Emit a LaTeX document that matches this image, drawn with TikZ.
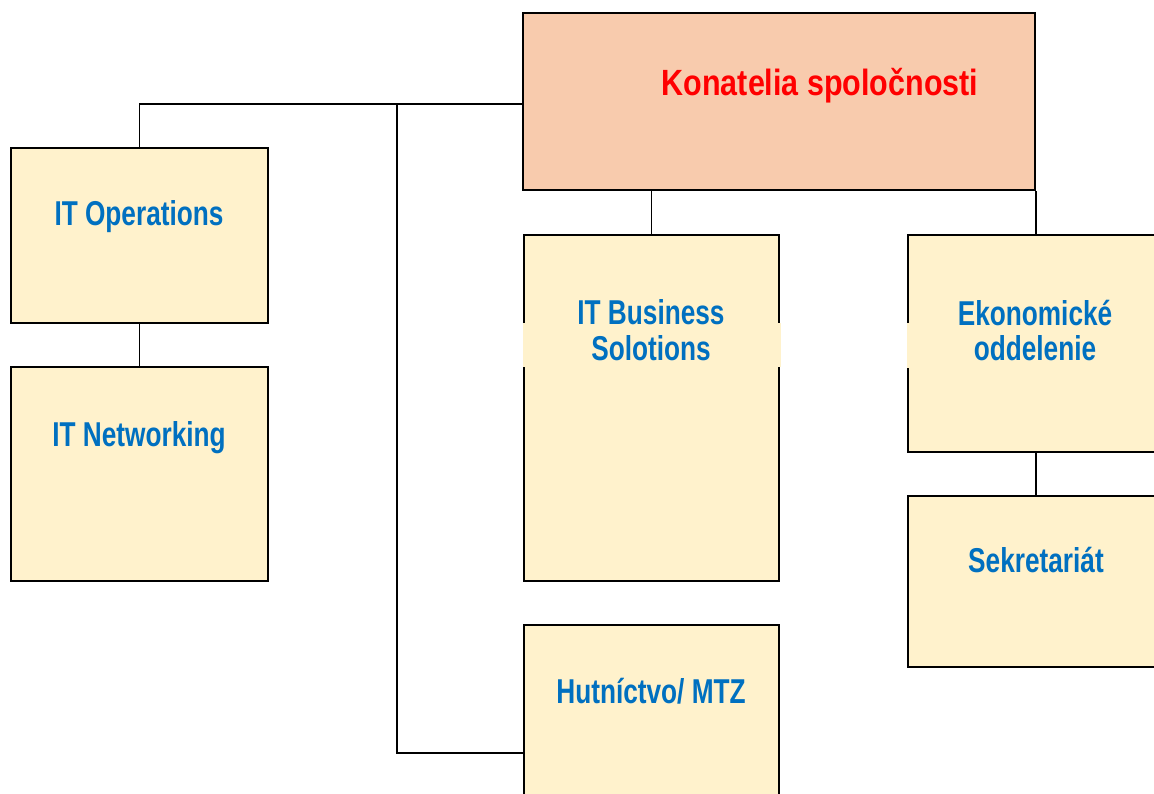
\documentclass[tikz,border=0pt]{standalone}
\usepackage{fontspec}
\newfontfamily\bluefont[FakeStretch=0.76]{Liberation Sans}
\newfontfamily\redfont[FakeStretch=0.835]{Liberation Sans}
\definecolor{boxfill}{HTML}{FFF2CC}
\definecolor{topfill}{HTML}{F8CBAD}
\definecolor{bluetext}{HTML}{0070C0}
\definecolor{redtext}{HTML}{FF0000}
\begin{document}
\begin{tikzpicture}[x=1pt,y=-1pt,
  box/.style={draw=black, line width=2pt, fill=boxfill, inner sep=0pt},
  wire/.style={draw=black, line width=1.8pt},
  lbl/.style={text=bluetext, font=\bluefont\bfseries\fontsize{34.5}{35.5}\selectfont, align=center, inner sep=0pt},
  toplbl/.style={text=redtext, font=\redfont\bfseries\fontsize{36.5}{38}\selectfont, inner sep=0pt}]
\useasboundingbox (0,0) rectangle (1154,793);
\clip (0,0) rectangle (1154,793);
% boxes
\node[box, fill=topfill, minimum width=512pt, minimum height=177pt] (kon) at (779,101.5) {};
\node[box, minimum width=257pt, minimum height=175pt] (itops) at (139.5,235.5) {};
\node[box, minimum width=257pt, minimum height=214pt] (itnet) at (139.5,474) {};
\node[box, minimum width=255pt, minimum height=346pt] (itbus) at (651.5,408) {};
\node[box, minimum width=256pt, minimum height=217pt] (eko) at (1036,343.5) {};
\node[box, minimum width=256pt, minimum height=171pt] (sek) at (1036,581.5) {};
\node[box, minimum width=255pt, minimum height=205pt] (hut) at (651.5,727.5) {};
% connectors
\coordinate (j1) at (397,104);
\coordinate (j2) at (397,753);
\draw[wire] (j1 -| kon.west) -- (j1) -| (itops.north);
\draw[wire] (j1) -- (j2) -- (j2 -| hut.west);
\draw[wire] (kon.south -| itbus.north) -- (itbus.north);
\draw[wire] (kon.south -| eko.north) -- (eko.north);
\draw[wire] (itops.south) -- (itnet.north);
\draw[wire] (eko.south) -- (sek.north);
% border gaps behind the two-line labels
\fill[boxfill] (522.5,323) rectangle (780.5,367);
\fill[boxfill] (906.5,323) rectangle (1154,368);
% labels
\node[toplbl, anchor=base] (konl) at (820,95) {Konatelia spoločnosti};
\node[lbl, anchor=base] (itopsl) at (139,225) {IT Operations};
\node[lbl, anchor=base] (itnetl) at (139,446) {IT Networking};
\node[lbl] (itbusl) at (651,330) {IT Business\\Solotions};
\node[lbl] (ekol) at (1035,330.5) {Ekonomické\\oddelenie};
\node[lbl, anchor=base] (sekl) at (1036,572) {Sekretariát};
\node[lbl, anchor=base] (hutl) at (651,703) {Hutníctvo/ MTZ};
\end{tikzpicture}
\end{document}
